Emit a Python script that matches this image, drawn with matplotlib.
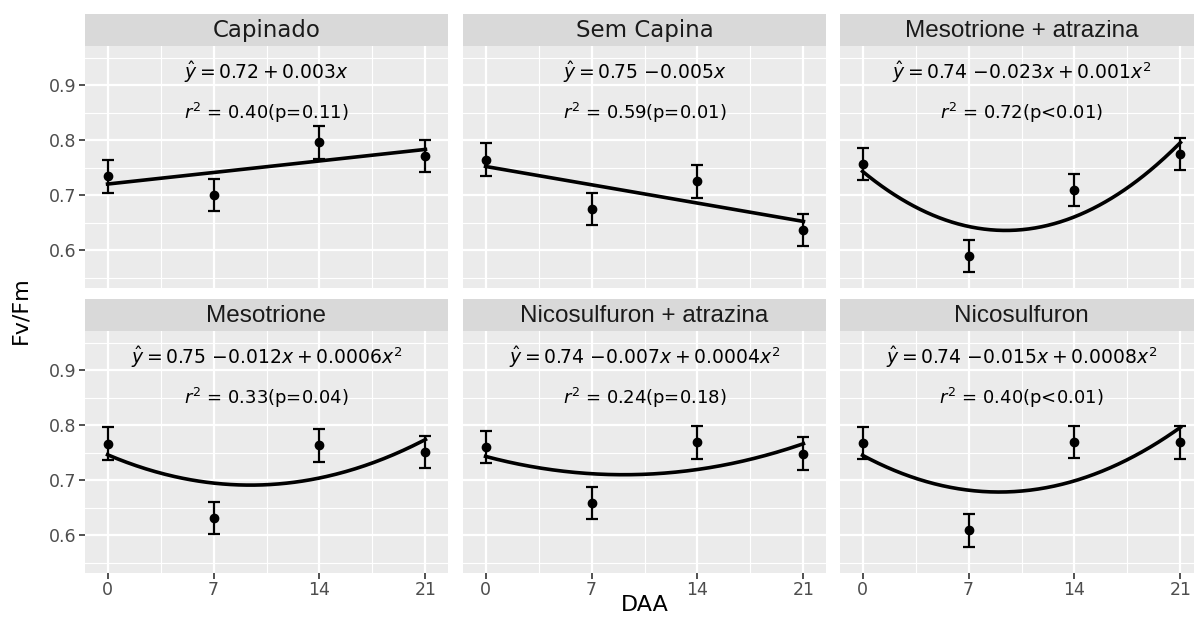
import matplotlib
matplotlib.use("Agg")
import matplotlib.pyplot as plt
import numpy as np
from matplotlib import font_manager as fm

# ---------------- data ----------------
panels = ["Capinado", "Sem Capina", "Mesotrione + atrazina",
          "Mesotrione", "Nicosulfuron + atrazina", "Nicosulfuron"]
daa = [0, 7, 14, 21]
means = {
    "Capinado":                [0.734, 0.700, 0.796, 0.771],
    "Sem Capina":              [0.764, 0.675, 0.725, 0.636],
    "Mesotrione + atrazina":   [0.757, 0.590, 0.709, 0.775],
    "Mesotrione":              [0.766, 0.631, 0.763, 0.751],
    "Nicosulfuron + atrazina": [0.760, 0.659, 0.769, 0.748],
    "Nicosulfuron":            [0.767, 0.609, 0.769, 0.769],
}
errors = {
    "Capinado":                [0.030, 0.029, 0.030, 0.029],
    "Sem Capina":              [0.030, 0.029, 0.030, 0.029],
    "Mesotrione + atrazina":   [0.029, 0.029, 0.029, 0.029],
    "Mesotrione":              [0.030, 0.029, 0.030, 0.029],
    "Nicosulfuron + atrazina": [0.029, 0.029, 0.030, 0.030],
    "Nicosulfuron":            [0.029, 0.030, 0.029, 0.030],
}
# fitted polynomial coefficients (a, b, c) for a + b x + c x^2
coefs = {
    "Capinado":                (0.720, 0.0030, 0.0),
    "Sem Capina":              (0.752, -0.00476, 0.0),
    "Mesotrione + atrazina":   (0.743, -0.0227, 0.00120),
    "Mesotrione":              (0.746, -0.0117, 0.00062),
    "Nicosulfuron + atrazina": (0.743, -0.0073, 0.00040),
    "Nicosulfuron":            (0.745, -0.0148, 0.00082),
}
equations = {
    "Capinado":                r"$\hat{y} = 0.72 + 0.003x$",
    "Sem Capina":              r"$\hat{y} = 0.75\ {-}0.005x$",
    "Mesotrione + atrazina":   r"$\hat{y} = 0.74\ {-}0.023x + 0.001x^2$",
    "Mesotrione":              r"$\hat{y} = 0.75\ {-}0.012x + 0.0006x^2$",
    "Nicosulfuron + atrazina": r"$\hat{y} = 0.74\ {-}0.007x + 0.0004x^2$",
    "Nicosulfuron":            r"$\hat{y} = 0.74\ {-}0.015x + 0.0008x^2$",
}
r2_labels = {
    "Capinado":                r"$r^2$ = 0.40(p=0.11)",
    "Sem Capina":              r"$r^2$ = 0.59(p=0.01)",
    "Mesotrione + atrazina":   r"$r^2$ = 0.72(p<0.01)",
    "Mesotrione":              r"$r^2$ = 0.33(p=0.04)",
    "Nicosulfuron + atrazina": r"$r^2$ = 0.24(p=0.18)",
    "Nicosulfuron":            r"$r^2$ = 0.40(p<0.01)",
}
y_ticks = [0.6, 0.7, 0.8, 0.9]
y_tick_labels = ["0.6", "0.7", "0.8", "0.9"]
x_tick_labels = ["0", "7", "14", "21"]

# ---------------- style ----------------
names = {f.name for f in fm.fontManager.ttflist}
narrow = "Liberation Sans Narrow" if "Liberation Sans Narrow" in names else "Liberation Sans"
plt.rcParams["font.family"] = ["DejaVu Sans"]
plt.rcParams["mathtext.fontset"] = "dejavusans"

W, H = 1194, 618
fig = plt.figure(figsize=(W / 100, H / 100), dpi=100)

col_left = [85, 463, 840]
pw = 363
row_top = [46, 331]
ph = 242
strip_h = 32

bg = "#EBEBEB"
strip_bg = "#D9D9D9"
tick_col = "#4D4D4D"

for i, name in enumerate(panels):
    r, c = divmod(i, 3)
    x0 = col_left[c]
    y0 = row_top[r]
    ax = fig.add_axes([x0 / W, 1 - (y0 + ph) / H, pw / W, ph / H])
    ax.set_facecolor(bg)
    for s in ax.spines.values():
        s.set_visible(False)
    ax.set_xlim(-1.49, 22.49)
    ax.set_ylim(0.531, 0.971)
    ax.set_xticks(daa)
    ax.set_yticks(y_ticks)
    ax.set_xticks([3.5, 10.5, 17.5], minor=True)
    ax.set_yticks([0.55, 0.65, 0.75, 0.85, 0.95], minor=True)
    ax.grid(which="major", color="white", lw=1.6)
    ax.grid(which="minor", color="white", lw=0.8)
    ax.set_axisbelow(True)
    ax.tick_params(which="minor", length=0)
    ax.tick_params(which="major", length=4, width=1.2, color="#333333",
                   labelcolor=tick_col, labelsize=12.5, pad=2)
    if c == 0:
        ax.set_yticklabels(y_tick_labels)
    else:
        ax.tick_params(axis="y", left=False, labelleft=False)
    if r == 1:
        ax.set_xticklabels(x_tick_labels)
    else:
        ax.tick_params(axis="x", bottom=False, labelbottom=False)

    a, b, cc = coefs[name]
    xs = np.linspace(0, 21, 200)
    ax.plot(xs, a + b * xs + cc * xs ** 2, color="black", lw=2.6, zorder=3)
    ax.errorbar(daa, means[name], yerr=errors[name], fmt="o", color="black",
                ms=6, elinewidth=1.6, capsize=4.4, capthick=1.6, zorder=4)

    ax.text(10.5, 0.924, equations[name], ha="center", va="center",
            fontsize=13.5, color="black")
    ax.text(10.5, 0.849, r2_labels[name], ha="center", va="center",
            fontsize=13, color="black")

    # strip
    sax = fig.add_axes([x0 / W, 1 - y0 / H, pw / W, strip_h / H])
    sax.set_facecolor(strip_bg)
    sax.set_xticks([]); sax.set_yticks([])
    for s in sax.spines.values():
        s.set_visible(False)
    if name in ("Capinado", "Sem Capina"):
        sax.text(0.5, 0.47, name, ha="center", va="center", fontsize=16.5,
                 color="#1A1A1A", family="DejaVu Sans", transform=sax.transAxes)
    else:
        sax.text(0.5, 0.47, name, ha="center", va="center", fontsize=17.5,
                 color="#1A1A1A", family=narrow, transform=sax.transAxes)

fig.text(20 / W, 1 - 310 / H, "Fv/Fm", rotation=90, ha="center", va="center",
         fontsize=16, color="black")
fig.text(645 / W, 1 - 605 / H, "DAA", ha="center", va="center",
         fontsize=16, color="black")

fig.savefig("out.png", dpi=100)
